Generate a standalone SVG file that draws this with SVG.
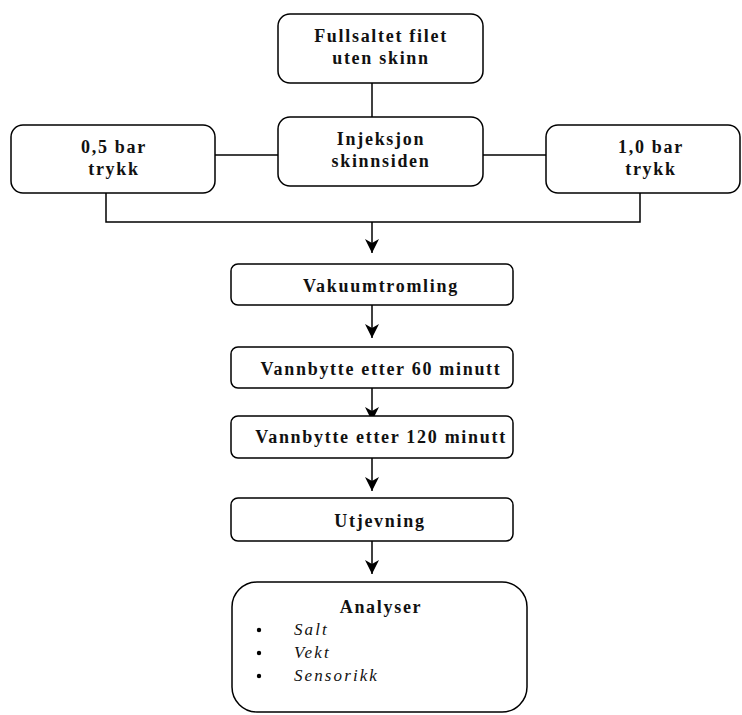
<svg xmlns="http://www.w3.org/2000/svg" width="742" height="715" viewBox="0 0 742 715">
<style>
.box{fill:#fff;stroke:#000;stroke-width:1.5}
.t{font-family:'Liberation Serif','Times New Roman',serif;font-weight:700;font-size:18px;letter-spacing:1.7px;text-anchor:middle;fill:#111}
.i{font-family:'Liberation Serif','Times New Roman',serif;font-style:italic;font-size:17px;letter-spacing:2.1px;fill:#111}
.ln{fill:none;stroke:#000;stroke-width:1.5}
</style>
<defs>
<marker id="ah" markerWidth="14" markerHeight="14" refX="14" refY="7" orient="auto" markerUnits="userSpaceOnUse">
<path d="M0,0 L14,7 L0,14 L4,7 Z" fill="#000"/>
</marker>
</defs>
<g id="connectors">
<line class="ln" x1="372" y1="83" x2="372" y2="117"/>
<line class="ln" x1="215" y1="155" x2="278" y2="155"/>
<line class="ln" x1="483" y1="155" x2="546" y2="155"/>
<polyline class="ln" points="106,193 106,222 640,222 640,193"/>
<line class="ln" x1="372" y1="222" x2="372" y2="253" marker-end="url(#ah)"/>
<line class="ln" x1="372" y1="305" x2="372" y2="338" marker-end="url(#ah)"/>
<line class="ln" x1="372" y1="388" x2="372" y2="421" marker-end="url(#ah)"/>
<line class="ln" x1="372" y1="458" x2="372" y2="491" marker-end="url(#ah)"/>
<line class="ln" x1="372" y1="541" x2="372" y2="574" marker-end="url(#ah)"/>
</g>
<g id="fullsaltet">
<rect class="box" x="278" y="14" width="205" height="69" rx="12"/>
<text class="t" x="381" y="42">Fullsaltet filet</text>
<text class="t" x="381" y="64">uten skinn</text>
</g>
<g id="injeksjon">
<rect class="box" x="278" y="117" width="205" height="69" rx="12"/>
<text class="t" x="381" y="145">Injeksjon</text>
<text class="t" x="381" y="167">skinnsiden</text>
</g>
<g id="bar05">
<rect class="box" x="11" y="125" width="204" height="68" rx="12"/>
<text class="t" x="114" y="153">0,5 bar</text>
<text class="t" x="114" y="175">trykk</text>
</g>
<g id="bar10">
<rect class="box" x="546" y="125" width="194" height="68" rx="12"/>
<text class="t" x="651" y="153">1,0 bar</text>
<text class="t" x="651" y="175">trykk</text>
</g>
<g id="vakuum">
<rect class="box" x="231" y="264" width="282" height="41" rx="7"/>
<text class="t" x="381" y="292">Vakuumtromling</text>
</g>
<g id="vann60">
<rect class="box" x="231" y="347" width="282" height="41" rx="7"/>
<text class="t" x="381" y="375">Vannbytte etter 60 minutt</text>
</g>
<g id="vann120">
<rect class="box" x="231" y="416" width="282" height="42" rx="7"/>
<text class="t" x="381" y="443">Vannbytte etter 120 minutt</text>
</g>
<g id="utjevning">
<rect class="box" x="231" y="498" width="282" height="43" rx="7"/>
<text class="t" x="380" y="527">Utjevning</text>
</g>
<g id="analyser">
<rect class="box" x="232" y="582" width="295" height="130" rx="25"/>
<text class="t" x="381" y="613">Analyser</text>
<circle cx="259" cy="630" r="2.2" fill="#000"/>
<circle cx="259" cy="653" r="2.2" fill="#000"/>
<circle cx="259" cy="676" r="2.2" fill="#000"/>
<text class="i" x="294" y="635">Salt</text>
<text class="i" x="294" y="658">Vekt</text>
<text class="i" x="294" y="681">Sensorikk</text>
</g>
</svg>
